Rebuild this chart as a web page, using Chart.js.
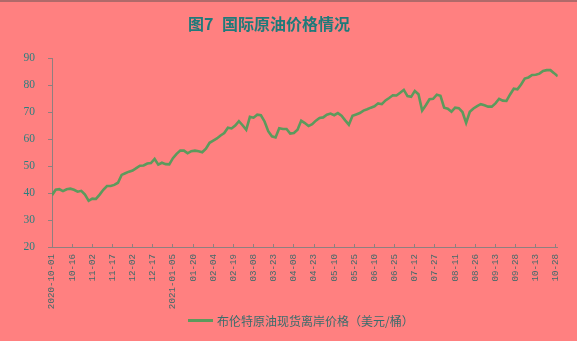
<!DOCTYPE html>
<html><head><meta charset="utf-8">
<script src="https://cdn.jsdelivr.net/npm/chart.js@4"></script>
<style>
html,body{margin:0;padding:0;background:#ff8080;}
#wrap{position:relative;width:577px;height:341px;overflow:hidden;background:#ff8080;}
#topline{position:absolute;left:0;top:0;width:577px;height:2px;background:#b06a6a;z-index:2;}
#title{position:absolute;left:0;top:11px;width:538px;text-align:center;font-weight:bold;font-size:16px;font-family:"Noto Sans CJK SC";color:#1f7a7a;word-spacing:5px;line-height:24px;z-index:2;}
#legend{position:absolute;left:188px;top:311px;height:18px;display:flex;align-items:center;font-size:12px;font-family:"Noto Sans CJK SC";color:#3a6c6c;z-index:2;white-space:nowrap;}
#legend i{display:inline-block;width:25px;height:3px;background:#5c9a5c;margin-right:4px;}
canvas{position:absolute;left:0;top:0;}
</style></head>
<body>
<div id="wrap">
<div id="topline"></div>
<div id="title">图7 国际原油价格情况</div>
<canvas id="c" width="577" height="341"></canvas>
<div id="legend"><i></i><span id="legtext"></span></div>
</div>
<script>
// X-axis tick labels (one every 11 trading days)
const tickLabels = ["2020-10-01","10-16","11-02","11-17","12-02","12-17","2021-01-05","01-20","02-04","02-19","03-08","03-23","04-08","04-23","05-10","05-25","06-10","06-25","07-12","07-27","08-11","08-26","09-13","09-28","10-13","10-28"];
const seriesName = "布伦特原油现货离岸价格（美元/桶）";
const sampleStep = 2;
const ticksEvery = 11;
const prices = [
39.2,41.2,41.4,40.7,41.4,41.6,41.2,40.5,40.8,39.4,
37.1,37.9,37.8,39.4,41.2,42.6,42.6,43.0,43.8,46.7,
47.3,47.9,48.3,49.2,50.1,50.2,50.9,51.1,52.6,50.5,
51.2,50.7,50.6,52.9,54.5,55.7,55.7,54.7,55.5,55.7,
55.5,55.1,56.4,58.6,59.4,60.2,61.3,62.2,64.2,63.9,
65.0,66.6,65.1,63.4,68.2,67.9,69.0,68.8,66.5,62.9,
61.0,60.6,64.0,63.7,63.7,62.0,62.2,63.4,66.8,65.9,
64.8,65.5,66.8,67.8,68.0,69.0,69.4,68.8,69.6,68.6,
66.9,65.3,68.6,69.1,69.6,70.5,71.0,71.6,72.1,73.2,
72.9,74.3,75.2,76.2,76.1,77.1,78.2,75.9,75.6,77.8,
76.6,70.5,72.5,74.7,74.9,76.4,76.0,71.6,71.2,70.1,
71.6,71.4,70.0,66.0,70.1,71.3,72.2,72.9,72.5,72.0,
72.0,73.2,74.9,74.2,74.1,76.5,78.6,78.4,80.2,82.4,
82.8,83.7,83.8,84.2,85.2,85.5,85.5,84.4,83.2
];
const yMin = 20, yMax = 90, yStep = 10;

const lineColor = "#5c9a5c";
const axisColor = "#8f7f7f";

document.getElementById('legtext').textContent = seriesName;

const points = prices.map((v, i) => ({x: i * sampleStep, y: v}));
const xMax = (prices.length - 1) * sampleStep;

new Chart(document.getElementById('c'), {
  type: 'line',
  data: {datasets: [{
    label: seriesName, data: points,
    borderColor: lineColor, borderWidth: 2.6,
    pointRadius: 0, tension: 0, fill: false
  }]},
  options: {
    responsive: false, animation: false, devicePixelRatio: 1,
    layout: {padding: {left: 0, right: 12, top: 58, bottom: 0}},
    plugins: {legend: {display: false}, title: {display: false}, tooltip: {enabled: false}},
    scales: {
      x: {
        type: 'linear', min: 0, max: xMax,
        afterBuildTicks: s => { s.ticks = tickLabels.map((_, i) => ({value: i * ticksEvery})); },
        afterFit: s => { s.height = 94; },
        grid: {display: true, drawOnChartArea: false, tickLength: -3, color: axisColor},
        border: {color: axisColor, width: 1},
        ticks: {
          autoSkip: false, minRotation: 90, maxRotation: 90, padding: 10,
          font: {family: 'Liberation Mono', size: 9.2}, color: '#456a6a',
          callback: (v, i) => tickLabels[i]
        }
      },
      y: {
        min: yMin, max: yMax,
        afterFit: s => { s.width = 52; },
        grid: {display: true, drawOnChartArea: false, tickLength: 4, color: axisColor},
        border: {color: axisColor, width: 1},
        ticks: {stepSize: yStep, padding: 13, font: {family: 'Liberation Serif', size: 11.5}, color: '#2a7f7f'}
      }
    }
  }
});
</script>
</body></html>
